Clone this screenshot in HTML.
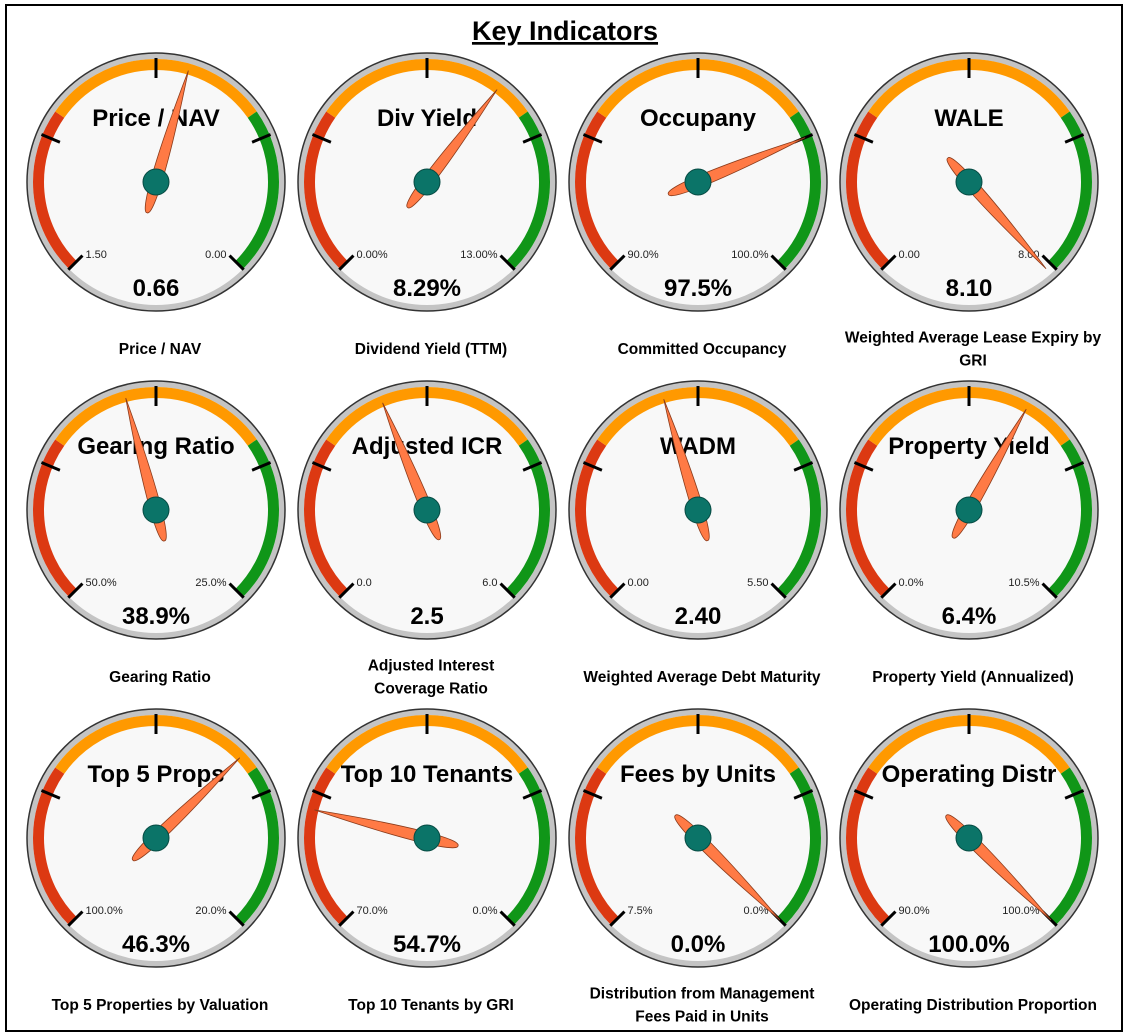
<!DOCTYPE html>
<html><head><meta charset="utf-8"><style>
body{margin:0;background:#fff;width:1127px;height:1035px;overflow:hidden}
#frame{position:absolute;left:5px;top:4px;width:1114px;height:1024px;border:2px solid #000}
</style></head><body>
<div id="frame"></div>
<svg id="chart" width="1127" height="1035" style="position:absolute;left:0;top:0" font-family="'Liberation Sans', sans-serif">
<text x="565" y="40" text-anchor="middle" font-size="27" font-weight="bold" text-decoration="underline">Key Indicators</text>
</svg>
<script>
const titles=["Price / NAV","Div Yield","Occupany","WALE","Gearing Ratio","Adjusted ICR","WADM","Property Yield","Top 5 Props","Top 10 Tenants","Fees by Units","Operating Distr"];
const captions=[["Price / NAV"],["Dividend Yield (TTM)"],["Committed Occupancy"],["Weighted Average Lease Expiry by","GRI"],["Gearing Ratio"],["Adjusted Interest","Coverage Ratio"],["Weighted Average Debt Maturity"],["Property Yield (Annualized)"],["Top 5 Properties by Valuation"],["Top 10 Tenants by GRI"],["Distribution from Management","Fees Paid in Units"],["Operating Distribution Proportion"]];
const minVals=[1.5,0,90,0,50,0,0,0,100,70,7.5,90];
const maxVals=[0,13,100,8,25,6,5.5,10.5,20,0,0,100];
const values=[0.66,8.29,97.5,8.10,38.9,2.5,2.40,6.4,46.3,54.7,0.0,100.0];
const minLabels=["1.50","0.00%","90.0%","0.00","50.0%","0.0","0.00","0.0%","100.0%","70.0%","7.5%","90.0%"];
const maxLabels=["0.00","13.00%","100.0%","8.00","25.0%","6.0","5.50","10.5%","20.0%","0.0%","0.0%","100.0%"];
const valueLabels=["0.66","8.29%","97.5%","8.10","38.9%","2.5","2.40","6.4%","46.3%","54.7%","0.0%","100.0%"];
const NS="http://www.w3.org/2000/svg";
const svg=document.getElementById('chart');
const colX=[156,427,698,969], rowY=[182,510,838];
function mk(tag,at,parent){const e=document.createElementNS(NS,tag);for(const k in at)e.setAttribute(k,at[k]);(parent||svg).appendChild(e);return e;}
function ang(i,v){return -135+270*(v-minVals[i])/(maxVals[i]-minVals[i]);}
function pt(cx,cy,r,a){const t=a*Math.PI/180;return [cx+r*Math.sin(t),cy-r*Math.cos(t)];}
function loc(cx,cy,along,side,a){const p=pt(cx,cy,along,a),o=pt(0,0,side,a+90);return [p[0]+o[0],p[1]+o[1]];}
function arc(cx,cy,r,a0,a1){const p0=pt(cx,cy,r,a0),p1=pt(cx,cy,r,a1);return `M${p0[0]} ${p0[1]} A${r} ${r} 0 ${a1-a0>180?1:0} 1 ${p1[0]} ${p1[1]}`;}
titles.forEach((t,i)=>{
  const cx=colX[i%4], cy=rowY[Math.floor(i/4)];
  const g=mk('g',{});
  
  
  const ring=mk('circle',{cx,cy,r:129,fill:'#c4c4c4',stroke:'#333','stroke-width':1.5},g);
  
  
  mk('circle',{cx,cy,r:123,fill:'#f8f8f8'},g);
  [[-135,-55,'#dc3912'],[-55,55,'#ff9900'],[55,135,'#109618']].forEach(b=>{
    const p=mk('path',{d:arc(cx,cy,117.5,b[0],b[1]),fill:'none',stroke:b[2],'stroke-width':11},g);
    
    
  });
  [-135,-67.5,0,67.5,135].forEach(a=>{
    const p0=pt(cx,cy,104,a),p1=pt(cx,cy,124,a);
    mk('line',{x1:p0[0],y1:p0[1],x2:p1[0],y2:p1[1],stroke:'#000','stroke-width':3},g);
  });
  const tt=mk('text',{x:cx,y:cy-56,'text-anchor':'middle','font-size':24,'font-weight':'bold'},g);tt.textContent=t;
  
  
  const lmin=pt(cx,cy,104,-135), lmax=pt(cx,cy,104,135);
  const a=mk('text',{x:lmin[0]+3,y:cy+76,'font-size':11,fill:'#222'},g);a.textContent=minLabels[i];
  
  
  const b=mk('text',{x:lmax[0]-3,y:cy+76,'text-anchor':'end','font-size':11,fill:'#222'},g);b.textContent=maxLabels[i];
  
  
  const vt=mk('text',{x:cx,y:cy+114,'text-anchor':'middle','font-size':24,'font-weight':'bold'},g);vt.textContent=valueLabels[i];
  
  
  const an=ang(i,values[i]);
  const tip=pt(cx,cy,116,an), tail=pt(cx,cy,-32,an);
  const c1=loc(cx,cy,20,8,an), c2=loc(cx,cy,-34,7,an), c3=loc(cx,cy,-34,-7,an), c4=loc(cx,cy,20,-8,an);
  const nd=mk('path',{d:`M${tip[0]} ${tip[1]} C${c1[0]} ${c1[1]} ${c2[0]} ${c2[1]} ${tail[0]} ${tail[1]} C${c3[0]} ${c3[1]} ${c4[0]} ${c4[1]} ${tip[0]} ${tip[1]} Z`,fill:'#ff7a45',stroke:'#8a3a1a','stroke-width':0.8},g);
  
  
  const hub=mk('circle',{cx,cy,r:13,fill:'#0b7468',stroke:'#064a42','stroke-width':1},g);
  
  
  const cap=captions[i];
  cap.forEach((line,k)=>{
    const y=cy+172+(k-(cap.length-1)/2)*23;
    const c=mk('text',{x:cx+4,y,'text-anchor':'middle','font-size':15.5,'font-weight':'bold'},g);c.textContent=line;
    
    
  });
});
</script>
</body></html>
